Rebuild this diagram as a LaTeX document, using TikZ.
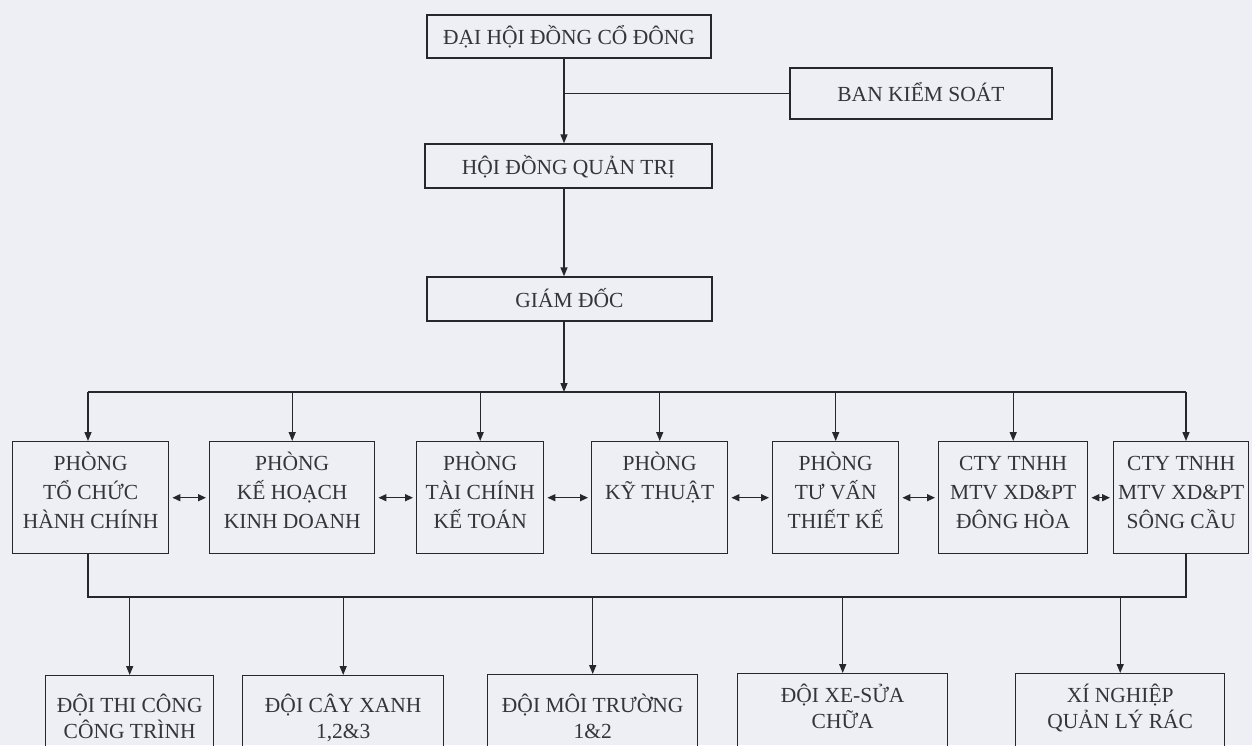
\documentclass[tikz,border=0pt]{standalone}
\usepackage{fontspec}
\setmainfont{Liberation Serif}
\usetikzlibrary{arrows.meta}
\definecolor{bg}{RGB}{237,239,245}
\definecolor{ink}{RGB}{38,38,44}
\definecolor{txt}{RGB}{52,52,58}
\newcommand{\midtext}[2]{\parbox[c][112pt][t]{#1pt}{\centering\fontsize{21.5}{29}\selectfont\rule{0pt}{29pt}#2}}
\newcommand{\lowtext}[3]{\parbox[c][95pt][t]{#1pt}{\centering\fontsize{21.5}{26}\selectfont\rule{0pt}{#2pt}#3}}
\begin{document}
\begin{tikzpicture}[x=1pt,y=-1pt,
  every node/.style={font=\fontsize{21.5}{29}\selectfont, text=txt},
  topbox/.style={draw=ink, line width=1.4pt, inner sep=0pt, text height=16pt, text depth=0pt},
  midbox/.style={draw=ink, line width=1.4pt, inner sep=0pt, anchor=north west},
  lowbox/.style={draw=ink, line width=1.4pt, inner sep=0pt, anchor=north west},
  conn/.style={draw=ink, line width=1.4pt},
  arr/.style={conn, -{Triangle[length=9pt,width=7pt]}},
  darr/.style={conn, {Triangle[length=8pt,width=7pt]}-{Triangle[length=8pt,width=7pt]}, shorten <=3pt, shorten >=3pt}]
\useasboundingbox (0,0) rectangle (1252,745);
\fill[bg] (0,0) rectangle (1252,745);

% top chain
\node[topbox, minimum width=284, minimum height=43] (dhcd) at (569,36.5) {ĐẠI HỘI ĐỒNG CỔ ĐÔNG};
\node[topbox, minimum width=262, minimum height=51] (bks) at (921,93.5) {BAN KIỂM SOÁT};
\node[topbox, minimum width=287, minimum height=44] (hdqt) at (568.5,166) {HỘI ĐỒNG QUẢN TRỊ};
\node[topbox, minimum width=285, minimum height=44] (gd) at (569.5,299) {GIÁM ĐỐC};

\coordinate (spine) at (564,0);
\draw[arr] (spine |- dhcd.south) -- (spine |- hdqt.north);
\draw[conn] (bks.west) -- (bks.west -| spine);
\draw[arr] (spine |- hdqt.south) -- (spine |- gd.north);

% second row
\node[midbox] (p1) at (12,441) {\midtext{156}{PHÒNG\\TỔ CHỨC\\HÀNH CHÍNH}};
\node[midbox] (p2) at (209,441) {\midtext{165}{PHÒNG\\KẾ HOẠCH\\KINH DOANH}};
\node[midbox] (p3) at (416,441) {\midtext{127}{PHÒNG\\TÀI CHÍNH\\KẾ TOÁN}};
\node[midbox] (p4) at (591,441) {\midtext{136}{PHÒNG\\KỸ THUẬT}};
\node[midbox] (p5) at (772,441) {\midtext{126}{PHÒNG\\TƯ VẤN\\THIẾT KẾ}};
\node[midbox] (p6) at (938,441) {\midtext{149}{CTY TNHH\\MTV XD\&PT\\ĐÔNG HÒA}};
\node[midbox] (p7) at (1113,441) {\midtext{135}{CTY TNHH\\MTV XD\&PT\\SÔNG CẦU}};

\coordinate (busL) at (88,392);
\coordinate (busR) at (1186,392);
\draw[arr] (spine |- gd.south) -- (spine |- busL);
\draw[conn] (busL) -- (busR);
\draw[arr] (busL) -- (busL |- p1.north);
\foreach \n in {p2,p3,p4,p5,p6} {\draw[arr] (\n.north |- busL) -- (\n.north);}
\draw[arr] (busR) -- (busR |- p7.north);

\draw[darr] (p1.east) -- (p2.west);
\draw[darr] (p2.east) -- (p3.west);
\draw[darr] (p3.east) -- (p4.west);
\draw[darr] (p4.east) -- (p5.west);
\draw[darr] (p5.east) -- (p6.west);
\draw[darr] (p6.east) -- (p7.west);

% lower bus
\coordinate (lowL) at (88,597);
\coordinate (lowR) at (1186,597);
\draw[conn] (lowL |- p1.south) -- (lowL) -- (lowR) -- (lowR |- p7.south);

% bottom row
\node[lowbox] (c1) at (45,675) {\lowtext{168}{37}{ĐỘI THI CÔNG\\CÔNG TRÌNH}};
\node[lowbox] (c2) at (242,675) {\lowtext{201}{37}{ĐỘI CÂY XANH\\1,2\&3}};
\node[lowbox] (c3) at (487,674) {\lowtext{210}{38}{ĐỘI MÔI TRƯỜNG\\1\&2}};
\node[lowbox] (c4) at (737,673) {\lowtext{210}{29}{ĐỘI XE-SỬA\\CHỮA}};
\node[lowbox] (c5) at (1015,673) {\lowtext{209}{29}{XÍ NGHIỆP\\QUẢN LÝ RÁC}};

\foreach \n in {c1,c2,c3,c4,c5} {\draw[arr] (\n.north |- lowL) -- (\n.north);}
\end{tikzpicture}
\end{document}
